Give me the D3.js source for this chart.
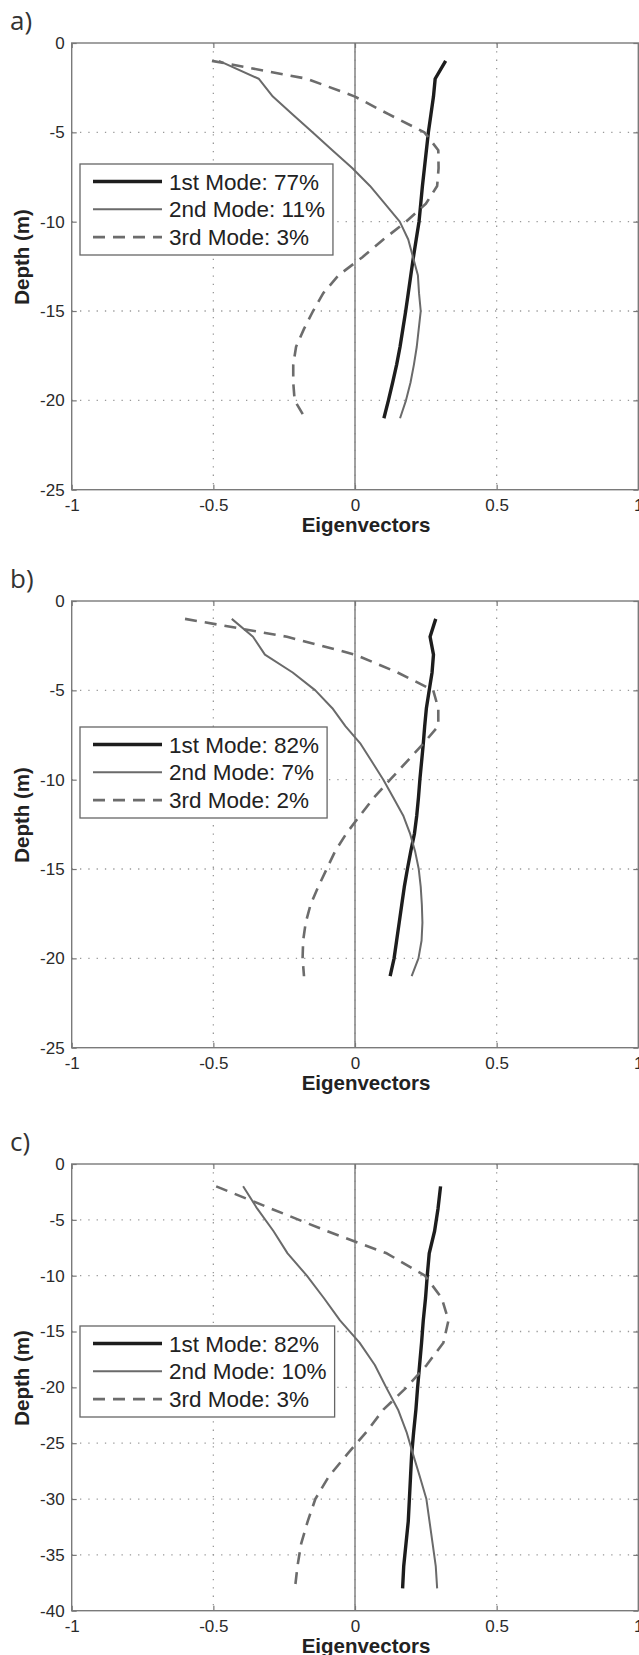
<!DOCTYPE html>
<html>
<head>
<meta charset="utf-8">
<script src="https://cdn.jsdelivr.net/npm/d3@7"></script>
<style>
  body { margin: 0; background: #fff; }
  svg { display: block; }
  text { font-family: "Liberation Sans", Arial, sans-serif; fill: #222; }
</style>
</head>
<body>
<div id="chart"></div>
<script>
// depth levels (m) of each profile
const depthAB = [-1, -2, -3, -4, -5, -6, -7, -8, -9, -10, -11, -12, -13, -14, -15, -16, -17, -18, -19, -20, -21];
const depthC = [-2, -4, -6, -8, -10, -12, -14, -16, -18, -20, -22, -24, -26, -28, -30, -32, -34, -36, -38];

const xTicks = [-1, -0.5, 0, 0.5, 1];
const yTicksAB = [0, -5, -10, -15, -20, -25];
const yTicksC = [0, -5, -10, -15, -20, -25, -30, -35, -40];

const panelLetters = ["a)", "b)", "c)"];
const modeNames = ["1st Mode", "2nd Mode", "3rd Mode"];
const varianceA = [77, 11, 3];
const varianceB = [82, 7, 2];
const varianceC = [82, 10, 3];

// eigenvector values
const mode1A = [0.32, 0.283, 0.277, 0.268, 0.259, 0.252, 0.245, 0.238, 0.232, 0.226, 0.216, 0.206, 0.197, 0.188, 0.179, 0.169, 0.159, 0.147, 0.133, 0.118, 0.102];
const mode2A = [-0.48, -0.34, -0.29, -0.22, -0.15, -0.08, -0.01, 0.053, 0.106, 0.158, 0.188, 0.205, 0.222, 0.226, 0.232, 0.225, 0.218, 0.208, 0.196, 0.18, 0.159];
const mode3A = [-0.505, -0.17, 0.0, 0.12, 0.245, 0.294, 0.295, 0.29, 0.25, 0.18, 0.1, 0.025, -0.058, -0.112, -0.148, -0.18, -0.208, -0.218, -0.218, -0.213, -0.176];

const mode1B = [0.285, 0.265, 0.277, 0.272, 0.262, 0.252, 0.246, 0.241, 0.235, 0.229, 0.224, 0.218, 0.21, 0.197, 0.185, 0.174, 0.165, 0.156, 0.147, 0.138, 0.124];
const mode2B = [-0.435, -0.36, -0.318, -0.22, -0.14, -0.08, -0.034, 0.02, 0.06, 0.1, 0.135, 0.17, 0.194, 0.212, 0.225, 0.232, 0.236, 0.238, 0.235, 0.224, 0.2];
const mode3B = [-0.6, -0.24, 0.0, 0.15, 0.276, 0.294, 0.294, 0.24, 0.182, 0.124, 0.067, 0.018, -0.03, -0.07, -0.1, -0.13, -0.157, -0.174, -0.183, -0.185, -0.18];

const mode1C = [0.302, 0.293, 0.281, 0.262, 0.255, 0.249, 0.241, 0.235, 0.228, 0.221, 0.215, 0.207, 0.2, 0.196, 0.192, 0.188, 0.18, 0.172, 0.168];
const mode2C = [-0.395, -0.345, -0.288, -0.238, -0.17, -0.11, -0.053, 0.016, 0.07, 0.11, 0.152, 0.182, 0.205, 0.229, 0.252, 0.263, 0.274, 0.285, 0.29];
const mode3C = [-0.49, -0.296, -0.1, 0.112, 0.247, 0.306, 0.33, 0.312, 0.253, 0.182, 0.1, 0.04, -0.028, -0.093, -0.14, -0.167, -0.19, -0.203, -0.212];

const width = 639,
  height = 1655;
const left = 71.7,
  right = 638.3,
  plotH = 446.7;

const panels = [
  { letter: panelLetters[0], top: 43, legendTop: 121, depth: depthAB, yTicks: yTicksAB, modes: [mode1A, mode2A, mode3A], variance: varianceA },
  { letter: panelLetters[1], top: 601, legendTop: 126, depth: depthAB, yTicks: yTicksAB, modes: [mode1B, mode2B, mode3B], variance: varianceB },
  { letter: panelLetters[2], top: 1164, legendTop: 162, depth: depthC, yTicks: yTicksC, modes: [mode1C, mode2C, mode3C], variance: varianceC },
];

const styles = [
  { color: "#1d1d1d", width: 3.4, dash: null },
  { color: "#6a6a6a", width: 2, dash: null },
  { color: "#6c6c6c", width: 2.6, dash: "12,8" },
];

const svg = d3
  .select("#chart")
  .append("svg")
  .attr("width", width)
  .attr("height", height);

const x = d3.scaleLinear().domain([-1, 1]).range([left, right]);
const fmt = (d) => String(d);

panels.forEach((p) => {
  const yMin = d3.min(p.yTicks);
  const y = d3.scaleLinear().domain([yMin, 0]).range([p.top + plotH, p.top]);
  const g = svg.append("g");

  // dotted grid
  g.selectAll("line.vgrid")
    .data(xTicks.filter((d) => d > -1 && d < 1))
    .join("line")
    .attr("x1", (d) => x(d))
    .attr("x2", (d) => x(d))
    .attr("y1", p.top)
    .attr("y2", p.top + plotH)
    .style("stroke", "#999")
    .style("stroke-width", 1.3)
    .style("stroke-dasharray", "1.3,7");
  g.selectAll("line.hgrid")
    .data(p.yTicks.filter((d) => d < 0 && d > yMin))
    .join("line")
    .attr("x1", left)
    .attr("x2", right)
    .attr("y1", (d) => y(d))
    .attr("y2", (d) => y(d))
    .style("stroke", "#999")
    .style("stroke-width", 1.3)
    .style("stroke-dasharray", "1.3,7");

  // zero line
  g.append("line")
    .attr("x1", x(0))
    .attr("x2", x(0))
    .attr("y1", p.top)
    .attr("y2", p.top + plotH)
    .style("stroke", "#8a8a8a")
    .style("stroke-width", 1.6);

  // axes (ticks inside, like matlab)
  g.append("g")
    .attr("transform", `translate(0,${p.top + plotH})`)
    .call(d3.axisBottom(x).tickValues(xTicks).tickSize(-5).tickPadding(9).tickFormat(fmt));
  g.append("g")
    .attr("transform", `translate(${left},0)`)
    .call(d3.axisLeft(y).tickValues(p.yTicks).tickSize(-5).tickPadding(7).tickFormat(fmt));
  g.append("g")
    .attr("transform", `translate(0,${p.top})`)
    .call(d3.axisTop(x).tickValues(xTicks).tickSize(-5).tickFormat(""));
  g.append("g")
    .attr("transform", `translate(${right},0)`)
    .call(d3.axisRight(y).tickValues(p.yTicks).tickSize(-5).tickFormat(""));
  g.selectAll(".domain").remove();
  g.selectAll(".tick line").style("stroke", "#777").style("stroke-width", 1.2);
  g.selectAll(".tick text")
    .style("font-size", "17px")
    .style("fill", "#2a2a2a")
    .style("font-family", '"Liberation Sans", Arial, sans-serif');

  g.append("rect")
    .attr("x", left)
    .attr("y", p.top)
    .attr("width", right - left)
    .attr("height", plotH)
    .style("fill", "none")
    .style("stroke", "#7a7a7a")
    .style("stroke-width", 1.4);

  // profiles
  const line = d3
    .line()
    .x((d) => x(d[0]))
    .y((d) => y(d[1]));
  p.modes.forEach((vals, i) => {
    g.append("path")
      .datum(vals.map((v, j) => [v, p.depth[j]]))
      .attr("d", line)
      .style("fill", "none")
      .style("stroke", styles[i].color)
      .style("stroke-width", styles[i].width)
      .style("stroke-linejoin", "round")
      .style("stroke-dasharray", styles[i].dash);
  });

  // legend
  const lx = 80,
    ly = p.top + p.legendTop;
  const leg = g.append("g");
  const box = leg
    .append("rect")
    .attr("x", lx)
    .attr("y", ly)
    .attr("height", 91)
    .style("fill", "#fff")
    .style("stroke", "#666")
    .style("stroke-width", 1.3);
  let maxW = 0;
  modeNames.forEach((name, i) => {
    const ry = ly + 17.5 + i * 27.8;
    leg.append("line")
      .attr("x1", lx + 13)
      .attr("x2", lx + 82)
      .attr("y1", ry)
      .attr("y2", ry)
      .style("stroke", styles[i].color)
      .style("stroke-width", styles[i].width)
      .style("stroke-dasharray", styles[i].dash);
    const t = leg
      .append("text")
      .attr("x", lx + 89)
      .attr("y", ry)
      .attr("dy", "0.36em")
      .style("font-size", "22.5px")
      .text(`${name}: ${p.variance[i]}%`);
    maxW = Math.max(maxW, t.node().getComputedTextLength());
  });
  box.attr("width", 89 + maxW + 8);

  // titles
  g.append("text")
    .attr("x", 10)
    .attr("y", p.top - 22)
    .attr("dy", "0.35em")
    .style("font-family", '"Open Sans", "Noto Sans", sans-serif')
    .style("font-size", "26px")
    .style("fill", "#333")
    .text(p.letter);
  g.append("text")
    .attr("transform", `translate(22,${p.top + 214}) rotate(-90)`)
    .attr("text-anchor", "middle")
    .attr("dy", "0.35em")
    .style("font-size", "20.5px")
    .style("font-weight", "bold")
    .text("Depth (m)");
  g.append("text")
    .attr("x", 366)
    .attr("y", p.top + plotH + 35)
    .attr("text-anchor", "middle")
    .attr("dy", "0.35em")
    .style("font-size", "20.5px")
    .style("font-weight", "bold")
    .text("Eigenvectors");
});
</script>
</body>
</html>
